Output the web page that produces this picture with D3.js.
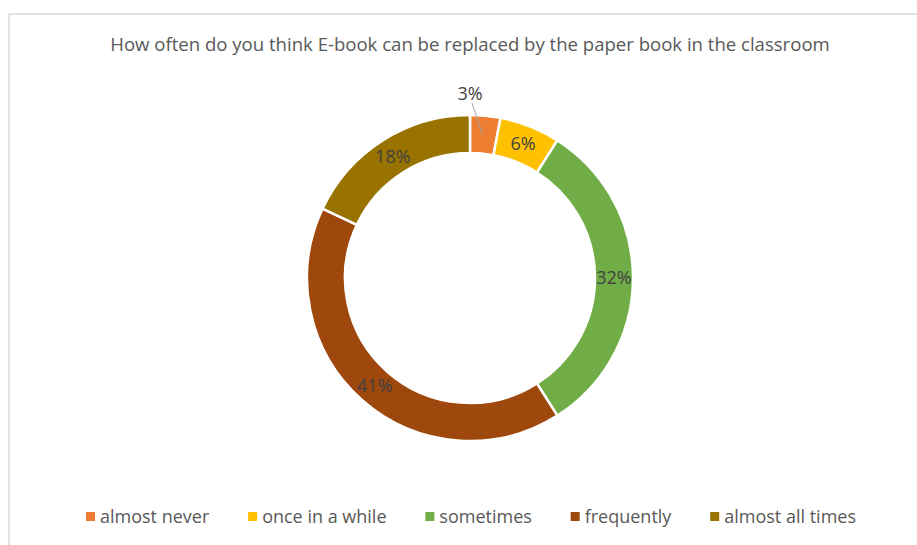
<!DOCTYPE html>
<html>
<head>
<meta charset="utf-8">
<script src="https://cdn.jsdelivr.net/npm/d3@7"></script>
<style>
  body { margin: 0; background: #fff; }
  text { font-family: "Open Sans", "Liberation Sans", sans-serif; }
</style>
</head>
<body>
<svg id="chart"></svg>
<script>
// data
const categories = ["almost never", "once in a while", "sometimes", "frequently", "almost all times"];
const values = [3, 6, 32, 41, 18];
const colors = ["#ED7D31", "#FFC000", "#70AD47", "#9E480E", "#997300"];
const chartTitle = "How often do you think E-book can be replaced by the paper book in the classroom";

const width = 917, height = 545;
const cx = 470, cy = 278;
const outerR = 163, innerR = 125;

const svg = d3.select("#chart")
    .attr("width", width)
    .attr("height", height);

// chart area frame (light border, left and top visible)
svg.append("rect")
    .attr("x", 9)
    .attr("y", 14)
    .attr("width", 930)
    .attr("height", 560)
    .attr("fill", "#fff")
    .attr("stroke", "#d9d9d9")
    .attr("stroke-width", 1.5);

// title, sized to fit the reference width
const title = svg.append("text")
    .attr("x", cx)
    .attr("y", 51)
    .attr("text-anchor", "middle")
    .attr("fill", "#595959")
    .attr("font-size", 18)
    .text(chartTitle);
let tw = title.node().getComputedTextLength();
title.attr("font-size", 18 * 720 / tw);

const pie = d3.pie().sort(null).value(d => d);
const arcs = pie(values);
const arc = d3.arc().innerRadius(innerR).outerRadius(outerR);

const g = svg.append("g").attr("transform", "translate(" + cx + "," + cy + ")");

g.selectAll("path.slice")
    .data(arcs)
    .enter()
    .append("path")
    .attr("class", "slice")
    .attr("d", arc)
    .attr("fill", (d, i) => colors[i])
    .attr("stroke", "#fff")
    .attr("stroke-width", 2.5);

// data labels
const labelFont = 18;
arcs.forEach(function(d, i) {
    const c = arc.centroid(d);
    if (i === 0) {
        // small slice: label outside with leader line
        const a = (d.startAngle + d.endAngle) / 2;
        const r1 = (innerR + outerR) / 2;
        g.append("line")
            .attr("x1", Math.sin(a) * r1 - 1)
            .attr("y1", -Math.cos(a) * r1)
            .attr("x2", 2)
            .attr("y2", -175)
            .attr("stroke", "#a6a6a6")
            .attr("stroke-width", 1);
        g.append("text")
            .attr("x", 0)
            .attr("y", -178)
            .attr("text-anchor", "middle")
            .attr("fill", "#404040")
            .attr("font-size", labelFont)
            .text(values[i] + "%");
    } else {
        g.append("text")
            .attr("x", c[0])
            .attr("y", c[1])
            .attr("dy", "0.35em")
            .attr("text-anchor", "middle")
            .attr("fill", "#404040")
            .attr("font-size", labelFont)
            .text(values[i] + "%");
    }
});

// legend
const legendY = 517;
const legendLeft = 86, legendRight = 856;
const legend = svg.append("g");
const texts = [];
const groups = [];
categories.forEach(function(c, i) {
    const it = legend.append("g");
    it.append("rect")
        .attr("x", 0)
        .attr("y", legendY - 5)
        .attr("width", 9)
        .attr("height", 9)
        .attr("fill", colors[i]);
    const t = it.append("text")
        .attr("x", 14)
        .attr("y", legendY)
        .attr("dy", "0.35em")
        .attr("fill", "#595959")
        .attr("font-size", 18)
        .text(c);
    groups.push(it);
    texts.push(t.node().getComputedTextLength() + 14);
});
const gap = (legendRight - legendLeft - d3.sum(texts)) / (categories.length - 1);
let x = legendLeft;
groups.forEach(function(it, i) {
    it.attr("transform", "translate(" + x + ",0)");
    x += texts[i] + gap;
});
</script>
</body>
</html>
